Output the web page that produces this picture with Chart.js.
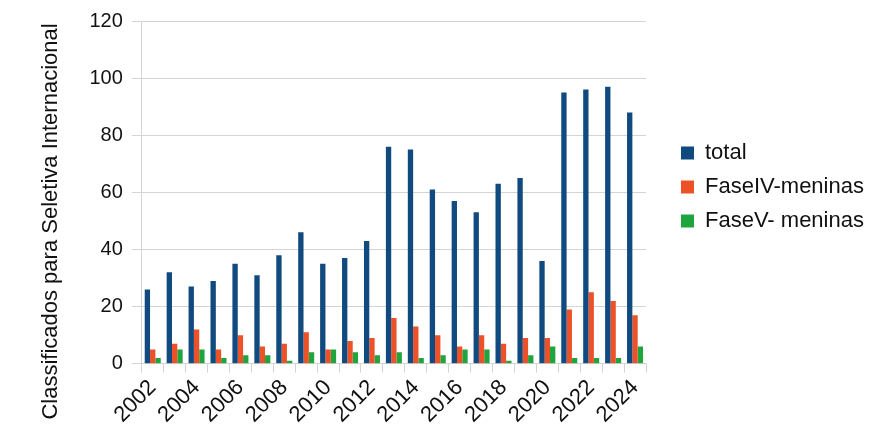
<!DOCTYPE html>
<html>
<head>
<meta charset="utf-8">
<script src="https://cdn.jsdelivr.net/npm/chart.js@4"></script>
<style>
  html, body { margin: 0; padding: 0; background: #fff; }
  #wrap { width: 896px; height: 442px; }
</style>
</head>
<body>
<div id="wrap"><canvas id="chart" width="896" height="442"></canvas></div>
<script>
const years = ["2002", "2003", "2004", "2005", "2006", "2007", "2008", "2009", "2010", "2011", "2012",
  "2013", "2014", "2015", "2016", "2017", "2018", "2019", "2020", "2021", "2022", "2023", "2024"];
const total = [26, 32, 27, 29, 35, 31, 38, 46, 35, 37, 43, 76, 75, 61, 57, 53, 63, 65, 36, 95, 96, 97, 88];
const faseIV = [5, 7, 12, 5, 10, 6, 7, 11, 5, 8, 9, 16, 13, 10, 6, 10, 7, 9, 9, 19, 25, 22, 17];
const faseV = [2, 5, 5, 2, 3, 3, 1, 4, 5, 4, 3, 4, 2, 3, 5, 5, 1, 3, 6, 2, 2, 2, 6];
const yTitle = "Classificados para Seletiva Internacional";

const gridGray = "#d4d4d4";
const font = "'Liberation Sans', Arial, sans-serif";
const legendWidth = 230;
const legendShift = 23;

// fixed legend width (layout would otherwise cap it), then nudge its items right
const legendBox = {
  id: "legendBox",
  beforeInit(chart) {
    const fit = chart.legend.fit;
    chart.legend.fit = function () {
      fit.call(this);
      this.width = legendWidth;
    };
  },
  afterLayout(chart) {
    chart.legend.left += legendShift;
    chart.legend.right += legendShift;
  }
};

new Chart(document.getElementById("chart"), {
  type: "bar",
  data: {
    labels: years,
    datasets: [
      { label: "total", data: total, backgroundColor: "#114a7f" },
      { label: "FaseIV-meninas", data: faseIV, backgroundColor: "#ec5127" },
      { label: "FaseV- meninas", data: faseV, backgroundColor: "#1fa53d" }
    ]
  },
  plugins: [legendBox],
  options: {
    responsive: false,
    animation: false,
    datasets: { bar: { categoryPercentage: 0.73, barPercentage: 1.0 } },
    layout: { padding: { left: 28, top: 13, right: 20, bottom: 12 } },
    plugins: {
      tooltip: { enabled: false },
      // axis title as a full-height chart title, centred on the whole canvas like the original
      title: {
        display: true,
        position: "left",
        text: yTitle,
        font: { family: font, size: 22, weight: "normal" },
        color: "#111",
        padding: { top: 10, bottom: 16 }
      },
      legend: {
        position: "right",
        align: "start",
        title: { display: true, text: " ", font: { size: 10 }, padding: { top: 105, bottom: 0 } },
        labels: {
          font: { family: font, size: 22 },
          color: "#111",
          boxWidth: 13,
          boxHeight: 13,
          padding: 12
        }
      }
    },
    scales: {
      x: {
        grid: {
          offset: true,
          color: ctx => (ctx.index === 0 || ctx.index === years.length) ? gridGray : "rgba(0,0,0,0)",
          tickColor: gridGray,
          tickLength: 9
        },
        border: { color: gridGray },
        ticks: {
          font: { family: font, size: 22 },
          color: "#111",
          maxRotation: 45,
          minRotation: 45,
          autoSkip: false,
          padding: 2,
          callback: (v, i) => i % 2 === 0 ? years[i] : ""
        }
      },
      y: {
        min: 0,
        max: 120,
        ticks: {
          stepSize: 20,
          font: { family: font, size: 20 },
          color: "#111",
          padding: 9
        },
        grid: { color: gridGray, tickLength: 10 },
        border: { color: gridGray }
      }
    }
  }
});
</script>
</body>
</html>
